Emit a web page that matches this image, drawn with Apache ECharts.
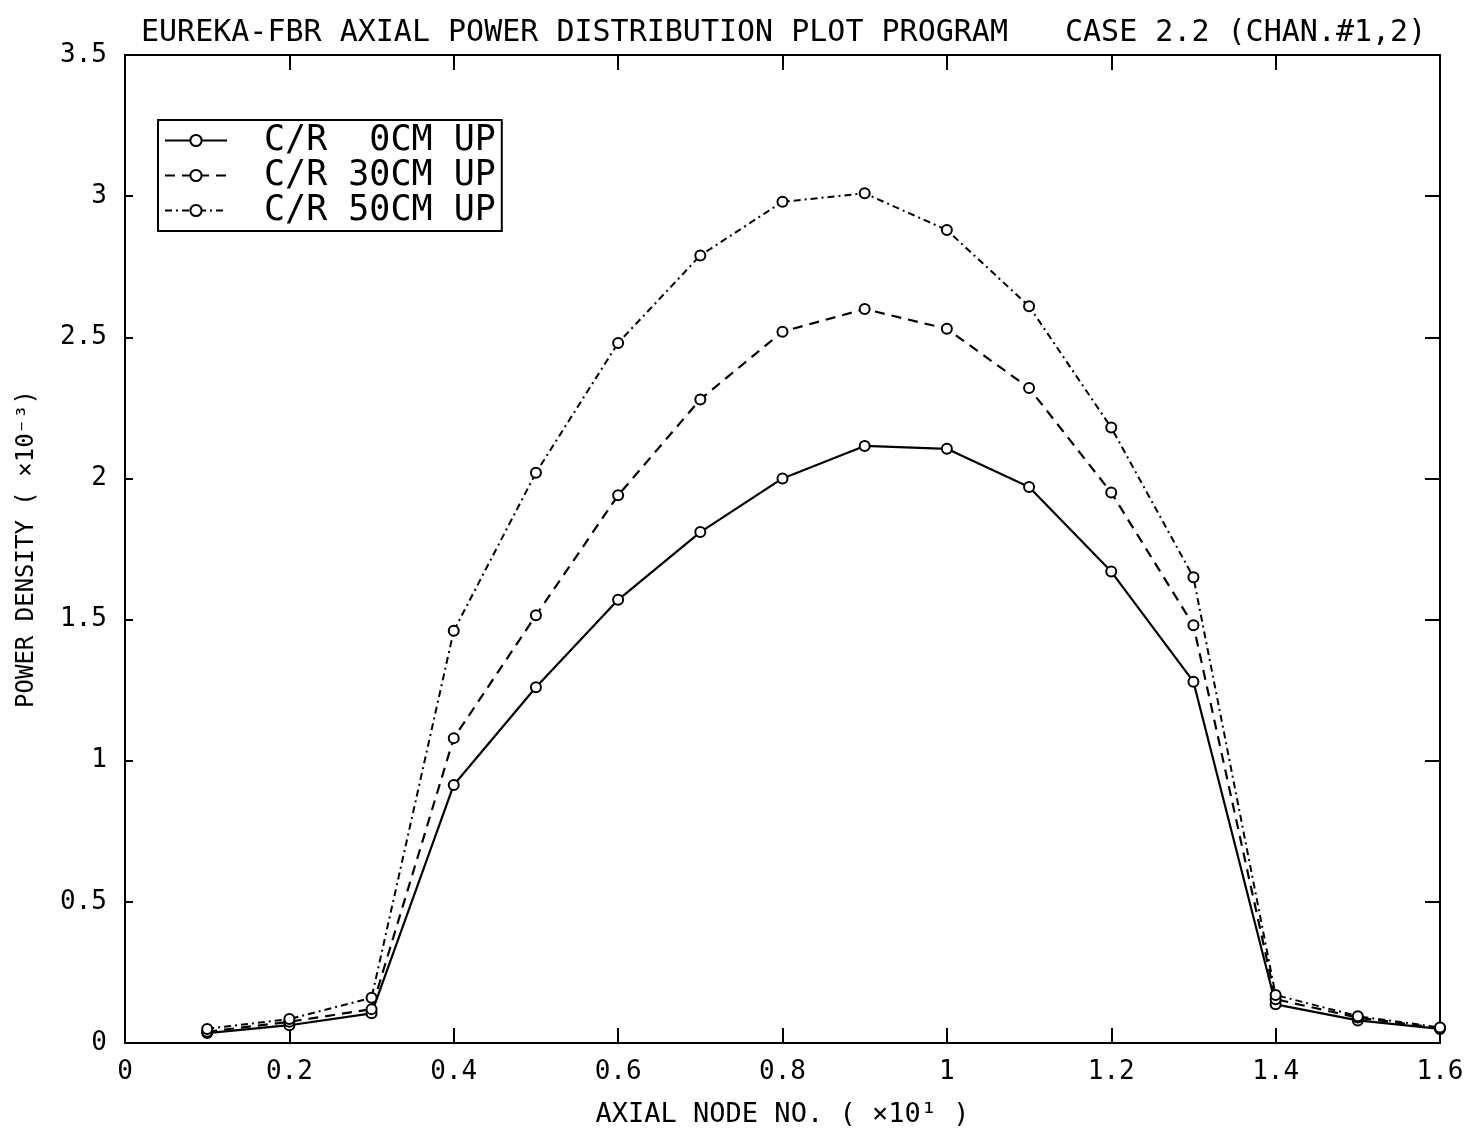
<!DOCTYPE html>
<html>
<head>
<meta charset="utf-8">
<script src="https://cdn.jsdelivr.net/npm/echarts@6/dist/echarts.min.js"></script>
<style>
  html, body { margin: 0; padding: 0; background: #fff; }
  #main { width: 1467px; height: 1133px; }
</style>
</head>
<body>
<div id="main"></div>
<script>
// axial node positions (x10^1)
var axialNodes = [0.1, 0.2, 0.3, 0.4, 0.5, 0.6, 0.7, 0.8, 0.9, 1.0, 1.1, 1.2, 1.3, 1.4, 1.5, 1.6];
// power density (x10^-3)
var cr0cm  = [0.035, 0.063, 0.105, 0.914, 1.26, 1.57, 1.81, 2.00, 2.115, 2.105, 1.97, 1.67, 1.28, 0.137, 0.08, 0.05];
var cr30cm = [0.040, 0.075, 0.120, 1.08, 1.515, 1.94, 2.28, 2.52, 2.60, 2.53, 2.32, 1.95, 1.48, 0.155, 0.09, 0.053];
var cr50cm = [0.050, 0.085, 0.160, 1.46, 2.02, 2.48, 2.79, 2.98, 3.01, 2.88, 2.61, 2.18, 1.65, 0.17, 0.095, 0.055];
var seriesNames = ['C/R  0CM UP', 'C/R 30CM UP', 'C/R 50CM UP'];

var FONT = 'DejaVu Sans Mono';

function pairs(ys) {
    return axialNodes.map(function (x, i) { return [x, ys[i]]; });
}

function makeSeries(name, ys, dash, width) {
    return {
        name: name,
        type: 'line',
        data: pairs(ys),
        symbol: 'emptyCircle',
        symbolSize: 10,
        color: '#000',
        itemStyle: { color: '#000', borderWidth: 2 },
        lineStyle: { color: '#000', width: width, type: dash },
        emphasis: { disabled: true },
        animation: false
    };
}

// frame axes: ticks inward, never snapped to zero
function axisLineStyle() {
    return { show: true, onZero: false, lineStyle: { color: '#000', width: 2 } };
}

var chart = echarts.init(document.getElementById('main'));

var option = {
    backgroundColor: '#fff',
    textStyle: { fontFamily: FONT, color: '#000' },
    title: [
        {
            text: 'EUREKA-FBR AXIAL POWER DISTRIBUTION PLOT PROGRAM',
            left: 136, top: 13,
            textStyle: { fontFamily: FONT, fontSize: 30, fontWeight: 'normal', color: '#000' }
        },
        {
            text: 'CASE 2.2 (CHAN.#1,2)',
            left: 1060, top: 13,
            textStyle: { fontFamily: FONT, fontSize: 30, fontWeight: 'normal', color: '#000' }
        }
    ],
    legend: {
        left: 158, top: 120,
        orient: 'vertical',
        data: seriesNames,
        itemWidth: 62, itemHeight: 14,
        itemGap: 0,
        padding: [3, 6, 3, 6],
        borderColor: '#000', borderWidth: 2,
        backgroundColor: '#fff',
        textStyle: { fontFamily: FONT, fontSize: 35, color: '#000', lineHeight: 27, padding: [0, 0, 0, 32] }
    },
    grid: { left: 125, right: 27, top: 55, bottom: 82 },
    xAxis: [
        {
            type: 'value', min: 0, max: 1.6, interval: 0.2,
            name: 'AXIAL NODE NO. ( ×10¹ )', nameLocation: 'middle', nameGap: 58,
            nameTextStyle: { fontFamily: FONT, fontSize: 27, color: '#000' },
            axisLine: axisLineStyle(),
            axisTick: { inside: true, length: 15, lineStyle: { color: '#000', width: 2 } },
            axisLabel: { fontFamily: FONT, fontSize: 26, color: '#000', margin: 16 },
            splitLine: { show: false }
        },
        {
            type: 'value', min: 0, max: 1.6, interval: 0.2, position: 'top',
            axisLine: axisLineStyle(),
            axisTick: { show: true, inside: true, length: 15, lineStyle: { color: '#000', width: 2 } },
            axisLabel: { show: false },
            splitLine: { show: false }
        }
    ],
    yAxis: [
        {
            type: 'value', min: 0, max: 3.5, interval: 0.5,
            name: 'POWER DENSITY ( ×10⁻³)', nameLocation: 'middle', nameGap: 86,
            nameTextStyle: { fontFamily: FONT, fontSize: 24, color: '#000' },
            axisLine: axisLineStyle(),
            axisTick: { show: true, inside: true, length: 8, lineStyle: { color: '#000', width: 2 } },
            axisLabel: { fontFamily: FONT, fontSize: 26, color: '#000', margin: 18 },
            splitLine: { show: false }
        },
        {
            type: 'value', min: 0, max: 3.5, interval: 0.5, position: 'right',
            axisLine: axisLineStyle(),
            axisTick: { show: true, inside: true, length: 15, lineStyle: { color: '#000', width: 2 } },
            axisLabel: { show: false },
            splitLine: { show: false }
        }
    ],
    series: [
        makeSeries(seriesNames[0], cr0cm, 'solid', 2.2),
        makeSeries(seriesNames[1], cr30cm, [10, 7], 2.2),
        makeSeries(seriesNames[2], cr50cm, [7, 4, 2, 4], 2)
    ]
};

chart.setOption(option);
</script>
</body>
</html>
